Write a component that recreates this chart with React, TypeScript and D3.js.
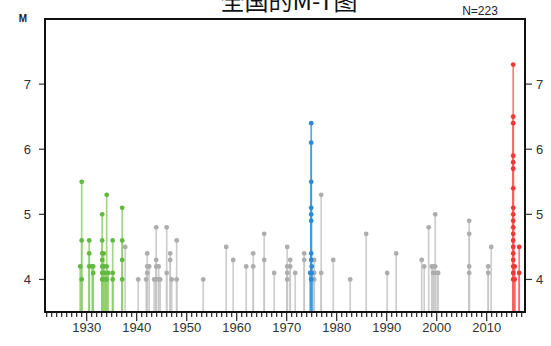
import React from 'react';
import * as d3 from 'd3';

const TITLE = '全国的M-T图';
const N_LABEL = 'N=223';
const Y_LABEL = 'M';
const yTicks = [4, 5, 6, 7];
const xTickLabels = [1930, 1940, 1950, 1960, 1970, 1980, 1990, 2000, 2010];

// [year, magnitude]
const greenEvents: [number, number][] = [
  [1928.7, 4.2],
  [1929.0, 5.5], [1929.0, 4.6], [1929.0, 4.0],
  [1930.5, 4.6], [1930.5, 4.4], [1930.5, 4.2],
  [1931.1, 4.2], [1931.3, 4.1], [1931.3, 4.2],
  [1933.1, 5.0], [1933.1, 4.6], [1933.1, 4.4], [1933.1, 4.3], [1933.1, 4.2], [1933.1, 4.1], [1933.1, 4.0],
  [1933.4, 4.4], [1933.4, 4.2], [1933.7, 4.1], [1933.7, 4.0],
  [1934.0, 5.3], [1934.0, 4.2], [1934.0, 4.0], [1934.3, 4.1],
  [1935.2, 4.6], [1935.2, 4.1], [1935.2, 4.0],
  [1937.1, 5.1], [1937.1, 4.6], [1937.1, 4.3], [1937.1, 4.0],
];

const grayEvents: [number, number][] = [
  [1937.7, 4.5],
  [1940.3, 4.0], [1941.9, 4.0],
  [1942.1, 4.4], [1942.1, 4.2], [1942.1, 4.1], [1942.5, 4.2],
  [1943.5, 4.0],
  [1943.9, 4.8], [1943.9, 4.3], [1943.9, 4.2], [1943.9, 4.0],
  [1944.4, 4.2], [1944.4, 4.0], [1944.7, 4.0],
  [1946.0, 4.8], [1946.0, 4.1], [1946.7, 4.4], [1946.7, 4.3], [1947.0, 4.0],
  [1948.0, 4.6], [1948.0, 4.0],
  [1953.3, 4.0], [1957.9, 4.5], [1959.3, 4.3], [1961.9, 4.2],
  [1963.3, 4.4], [1963.3, 4.2], [1965.5, 4.7], [1965.5, 4.3], [1967.5, 4.1],
  [1970.1, 4.5], [1970.1, 4.2], [1970.1, 4.1], [1970.1, 4.0],
  [1970.7, 4.3], [1970.7, 4.2], [1971.7, 4.1],
  [1973.5, 4.4], [1973.5, 4.3],
  [1975.5, 4.3], [1975.5, 4.1], [1975.5, 4.0],
  [1976.9, 5.3], [1976.9, 4.1], [1979.3, 4.3], [1982.7, 4.0], [1985.9, 4.7],
  [1990.1, 4.1], [1991.9, 4.4],
  [1997.0, 4.3], [1997.5, 4.2], [1998.4, 4.8], [1999.0, 4.2],
  [1999.3, 4.2], [1999.3, 4.1], [1999.7, 5.0], [1999.7, 4.2], [2000.1, 4.1], [2000.3, 4.1],
  [2006.5, 4.9], [2006.5, 4.7], [2006.5, 4.2], [2006.5, 4.1],
  [2010.3, 4.2], [2010.3, 4.1], [2010.9, 4.5],
];

const blueEvents: [number, number][] = [
  [1974.9, 6.4], [1974.9, 6.1], [1974.9, 5.5], [1974.9, 5.1], [1974.9, 5.0], [1974.9, 4.9],
  [1974.9, 4.4], [1974.9, 4.3], [1975.0, 4.2], [1974.7, 4.1], [1975.0, 4.1], [1974.9, 4.0],
];

const redEvents: [number, number][] = [
  [2015.3, 7.3], [2015.3, 6.5], [2015.3, 6.4], [2015.3, 5.9], [2015.3, 5.8], [2015.3, 5.7],
  [2015.3, 5.4], [2015.3, 5.1], [2015.3, 5.0], [2015.3, 4.9], [2015.3, 4.8], [2015.3, 4.7],
  [2015.3, 4.6], [2015.3, 4.5], [2015.3, 4.4], [2015.3, 4.3], [2015.3, 4.2], [2015.3, 4.1], [2015.3, 4.0],
  [2015.6, 4.2], [2015.6, 4.0],
  [2016.5, 4.5], [2016.5, 4.1],
];

const groups = [
  { events: grayEvents, stem: '#c6c6c6', dot: '#adadad' },
  { events: greenEvents, stem: '#8fd06c', dot: '#62b840' },
  { events: blueEvents, stem: '#3d9be0', dot: '#2a8ad6' },
  { events: redEvents, stem: '#ff6262', dot: '#f03838' },
];

export default function App() {
  const W = 551;
  const H = 346;
  const x = d3.scaleLinear().domain([1921.66, 2017.66]).range([45, 525]);
  const y = d3.scaleLinear().domain([3.5, 8]).range([312, 19]);
  const [x0, x1] = x.range();
  const [yb, yt] = y.range();
  const years = d3.range(1922, 2018);
  const font = "'Liberation Sans', Arial, sans-serif";

  return (
    <svg width={W} height={H} style={{ position: 'absolute', left: 0, top: 0, background: '#fff' }}>
      <text x={289} y={9.5} fontSize={24} textAnchor="middle" fontFamily="'Noto Sans CJK SC', sans-serif" fill="#111">
        {TITLE}
      </text>
      <text x={480} y={15} fontSize={12} textAnchor="middle" fontFamily={font} fill="#222">{N_LABEL}</text>
      <text x={23} y={22} fontSize={10} fontWeight="bold" textAnchor="middle" fontFamily={font} fill="#222">{Y_LABEL}</text>

      {groups.map((g, gi) => (
        <g key={gi}>
          {g.events.map((e, i) => (
            <line key={'s' + i} x1={x(e[0])} x2={x(e[0])} y1={yb} y2={y(e[1])}
              stroke={g.stem} strokeWidth={1.7} strokeOpacity={0.85} />
          ))}
          {g.events.map((e, i) => (
            <circle key={'c' + i} cx={x(e[0])} cy={y(e[1])} r={2.4} fill={g.dot} />
          ))}
        </g>
      ))}

      {/* x ticks */}
      {years.map((yr) => {
        const major = yr % 10 === 0;
        return (
          <line key={yr} x1={x(yr)} x2={x(yr)} y1={yb} y2={yb + (major ? 9 : 5)} stroke="#222" strokeWidth={1.2} />
        );
      })}
      {xTickLabels.map((yr) => (
        <text key={yr} x={x(yr)} y={332} fontSize={13} textAnchor="middle" fontFamily={font} fill="#333">{yr}</text>
      ))}

      {/* y ticks left & right */}
      {yTicks.map((v) => (
        <g key={v}>
          <line x1={x0 - 6} x2={x0} y1={y(v)} y2={y(v)} stroke="#333" strokeWidth={1.2} />
          <text x={31} y={y(v) + 5} fontSize={13} textAnchor="end" fontFamily={font} fill="#333">{v}</text>
          <line x1={x1} x2={x1 + 7} y1={y(v)} y2={y(v)} stroke="#333" strokeWidth={1.2} />
          <text x={536} y={y(v) + 5} fontSize={13} textAnchor="start" fontFamily={font} fill="#333">{v}</text>
        </g>
      ))}

      <rect x={x0} y={yt} width={x1 - x0} height={yb - yt} fill="none" stroke="#111" strokeWidth={2} />
    </svg>
  );
}
